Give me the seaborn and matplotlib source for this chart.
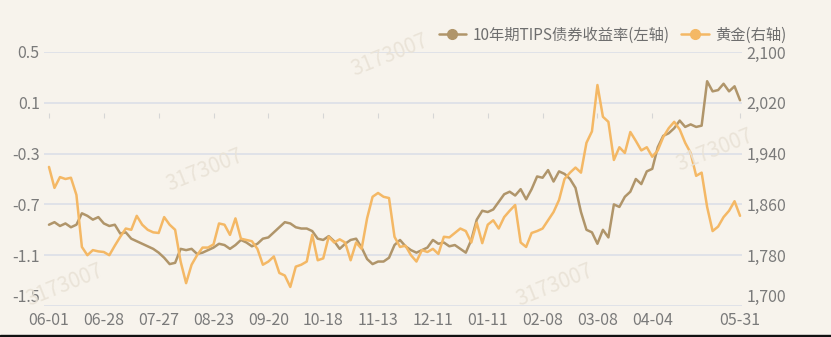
import numpy as np
import pandas as pd
import matplotlib
matplotlib.use("Agg")
import matplotlib.pyplot as plt
from matplotlib.lines import Line2D
from matplotlib.patches import Rectangle
import seaborn as sns

# ---- data ----
tick_labels = ["06-01", "06-28", "07-27", "08-23", "09-20", "10-18", "11-13",
               "12-11", "01-11", "02-08", "03-08", "04-04", "05-31"]
tick_index = [0, 10, 20, 30, 40, 50, 60, 70, 80, 90, 100, 110, 126]

tips = [-0.86, -0.84, -0.87, -0.85, -0.88, -0.86, -0.77, -0.79, -0.82, -0.80,
        -0.85, -0.87, -0.86, -0.93, -0.92, -0.97, -0.99, -1.01, -1.03, -1.05,
        -1.08, -1.12, -1.17, -1.16, -1.05, -1.06, -1.05, -1.09, -1.08, -1.06,
        -1.04, -1.01, -1.02, -1.05, -1.02, -0.98, -1.00, -1.03, -1.01, -0.97,
        -0.96, -0.92, -0.88, -0.84, -0.85, -0.88, -0.89, -0.89, -0.91, -0.97,
        -0.98, -0.95, -0.99, -1.05, -1.01, -0.98, -0.97, -1.04, -1.13, -1.17,
        -1.15, -1.15, -1.12, -1.02, -0.98, -1.03, -1.06, -1.08, -1.06, -1.04,
        -0.98, -1.01, -1.00, -1.03, -1.02, -1.05, -1.08, -0.98, -0.82, -0.75,
        -0.76, -0.74, -0.68, -0.62, -0.60, -0.63, -0.58, -0.66, -0.58, -0.48,
        -0.49, -0.43, -0.52, -0.44, -0.46, -0.50, -0.57, -0.76, -0.90, -0.92,
        -1.01, -0.90, -0.96, -0.70, -0.72, -0.64, -0.60, -0.50, -0.54, -0.44,
        -0.42, -0.25, -0.16, -0.14, -0.10, -0.04, -0.09, -0.07, -0.09, -0.08,
        0.27, 0.19, 0.20, 0.25, 0.19, 0.23, 0.12]

gold = [1919, 1886, 1903, 1900, 1902, 1875, 1793, 1780, 1788, 1786,
        1785, 1780, 1795, 1809, 1822, 1820, 1842, 1828, 1820, 1816,
        1815, 1840, 1828, 1820, 1770, 1736, 1765, 1780, 1792, 1792,
        1797, 1830, 1828, 1812, 1838, 1806, 1804, 1802, 1790, 1765,
        1770, 1778, 1752, 1748, 1730, 1762, 1765, 1770, 1812, 1772,
        1775, 1809, 1800, 1805, 1800, 1772, 1800, 1790, 1838, 1872,
        1878, 1872, 1870, 1809, 1793, 1795, 1780, 1770, 1788, 1785,
        1790, 1782, 1809, 1808, 1815, 1822, 1818, 1800, 1831, 1799,
        1828, 1835, 1822, 1840, 1850, 1859, 1800, 1793, 1815, 1818,
        1822, 1835, 1848, 1867, 1900, 1910, 1918, 1910, 1957, 1975,
        2048, 1998, 1990, 1930, 1950, 1941, 1974, 1960, 1945, 1950,
        1935, 1945, 1966, 1980, 1990, 1978, 1957, 1941, 1905, 1910,
        1856, 1818, 1825, 1840, 1850, 1865, 1842]

left_ticks = [0.5, 0.1, -0.3, -0.7, -1.1, -1.5]
right_ticks = [2100, 2020, 1940, 1860, 1780, 1700]

name_tips = "10年期TIPS债券收益率(左轴)"
name_gold = "黄金(右轴)"

# ---- style ----
sns.set_theme(style="white")
plt.rcParams["font.family"] = ["Noto Sans CJK SC", "DejaVu Sans"]

C_TIPS = "#B0956A"
C_GOLD = "#F4B865"
C_GRID = "#DCDFE8"
C_TEXT = "#7A7A7A"
BG = "#F7F3EC"

df = pd.DataFrame({"idx": np.arange(len(tips)), "tips": tips, "gold": gold})

fig = plt.figure(figsize=(8.31, 3.37), dpi=100, facecolor=BG)
ax = fig.add_axes([44 / 831, 1 - 306 / 337, 698 / 831, 254 / 337])
ax.set_facecolor("none")
ax2 = ax.twinx()
ax2.set_facecolor("none")

sns.lineplot(data=df, x="idx", y="tips", ax=ax, color=C_TIPS, linewidth=1.8, zorder=3)
sns.lineplot(data=df, x="idx", y="gold", ax=ax2, color=C_GOLD, linewidth=1.8, zorder=2)

ax.set_ylim(-1.5, 0.5)
ax2.set_ylim(1700, 2100)
ax.set_xlim(-0.91, 126.36)

ax.set_yticks(left_ticks)
ax.set_yticklabels([f"{v:.1f}" for v in left_ticks])
ax2.set_yticks(right_ticks)
ax2.set_yticklabels([f"{v:,}" for v in right_ticks])
ax.set_xticks(tick_index)
ax.set_xticklabels(tick_labels)

for a in (ax, ax2):
    for s in a.spines.values():
        s.set_visible(False)
    a.set_xlabel("")
    a.set_ylabel("")

ax.grid(False)
ax2.grid(False)
for v in left_ticks:
    ax.axhline(v, color=C_GRID, linewidth=1.2, zorder=0)

# small category ticks along the zero line
ax.vlines(tick_index, -0.02, 0.02, color="#D6D6D6", linewidth=0.8, zorder=1)

ax.tick_params(axis="y", length=0, pad=3, labelsize=11.5, labelcolor=C_TEXT)
ax2.tick_params(axis="y", length=0, pad=3, labelsize=11.5, labelcolor=C_TEXT)
ax.tick_params(axis="x", length=0, pad=4, labelsize=11.5, labelcolor=C_TEXT)

# lowest y labels sit just above their gridline, as in the reference
for lab in ax.get_yticklabels():
    if lab.get_text() == "-1.5":
        lab.set_va("bottom")
for lab in ax2.get_yticklabels():
    if lab.get_text() == "1,700":
        lab.set_va("bottom")

# legend
handles = [
    Line2D([], [], color=C_TIPS, marker="o", markersize=7, linewidth=1.8),
    Line2D([], [], color=C_GOLD, marker="o", markersize=7, linewidth=1.8),
]
fig.legend(handles, [name_tips, name_gold], loc="upper right",
           bbox_to_anchor=(800 / 831, 1 - 13 / 337), ncol=2, frameon=False,
           fontsize=11, handlelength=1.8, handletextpad=0.4, columnspacing=0.8,
           labelcolor="#6E6E6E")

# faint watermarks
for (wx, wy) in [(390, 55), (205, 170), (65, 285), (555, 285), (715, 150)]:
    fig.text(wx / 831, 1 - wy / 337, "3173007", fontsize=15, color="#E9E2D6",
             rotation=22, ha="center", va="center", zorder=0, alpha=0.9)

# bottom dark edge
fig.patches.append(Rectangle((0, 0), 1, 2 / 337, transform=fig.transFigure,
                             color="#111111", zorder=10))

fig.savefig("out.png", dpi=100, facecolor=BG)
